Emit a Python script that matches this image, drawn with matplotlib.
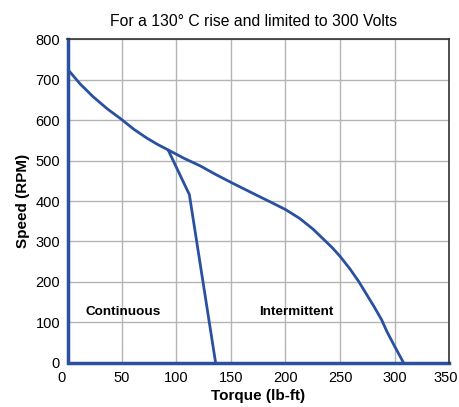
import numpy as np
import matplotlib.pyplot as plt
import matplotlib.transforms as mtransforms

plt.rcParams['font.family'] = ['Liberation Sans', 'DejaVu Sans']

# intermittent curve
int_torque = [1, 12, 24, 37, 50, 61, 73, 83, 93, 107, 122, 136, 151, 168, 186, 200, 213, 225, 235, 243,
              250, 259, 267, 274, 281, 288, 293, 300, 308]
int_speed = [725, 690, 658, 628, 602, 578, 556, 540, 526, 506, 487, 466, 445, 422, 398, 379, 357, 331,
             305, 284, 263, 232, 201, 170, 139, 106, 76, 40, 0]

# continuous curve
cont_torque = [93, 112, 136]
cont_speed = [524, 416, 0]

# axis border lines drawn as data
edge_torque = [1, 1, 350]
edge_speed = [800, 0, 0]

blue = '#2a50a0'

fig = plt.figure(figsize=(4.59, 4.07), dpi=100)
ax = fig.add_axes([0.146, 0.109, 0.833, 0.794])

ax.plot(int_torque, int_speed, color=blue, lw=2, solid_joinstyle='round')
ax.plot(cont_torque, cont_speed, color=blue, lw=2)
ax.plot(edge_torque, edge_speed, color=blue, lw=2.5, solid_joinstyle='miter', clip_on=False)

ax.set_xlim(0, 350)
ax.set_ylim(0, 800)
ax.set_xticks(np.arange(0, 351, 50))
ax.set_yticks(np.arange(0, 801, 100))
ax.grid(True, color='#b4b4b4', lw=1)
ax.set_axisbelow(True)
ax.tick_params(axis='x', length=0, labelsize=10.5, pad=6)
ax.tick_params(axis='y', length=0, labelsize=10.5, pad=5)

# nudge first and last x tick labels like the original
labels = ax.get_xticklabels()
labels[0].set_transform(labels[0].get_transform() + mtransforms.ScaledTranslation(-0.06, 0, fig.dpi_scale_trans))
labels[-1].set_transform(labels[-1].get_transform() + mtransforms.ScaledTranslation(-0.035, 0, fig.dpi_scale_trans))

for side in ['top', 'right']:
    ax.spines[side].set_color('#333333')
    ax.spines[side].set_linewidth(1.2)
for side in ['left', 'bottom']:
    ax.spines[side].set_visible(False)

ax.set_xlabel('Torque (lb-ft)', fontsize=11, fontweight='bold', labelpad=3)
ax.set_ylabel('Speed (RPM)', fontsize=11, fontweight='bold', labelpad=4)
ax.set_title('For a 130\u00b0 C rise and limited to 300 Volts', fontsize=11.3, pad=10, x=0.487)

ax.text(51, 125, 'Continuous', fontsize=9.7, fontweight='bold', ha='center', va='center')
ax.text(210, 125, 'Intermittent', fontsize=9.7, fontweight='bold', ha='center', va='center')

plt.savefig('out.png', dpi=100)
